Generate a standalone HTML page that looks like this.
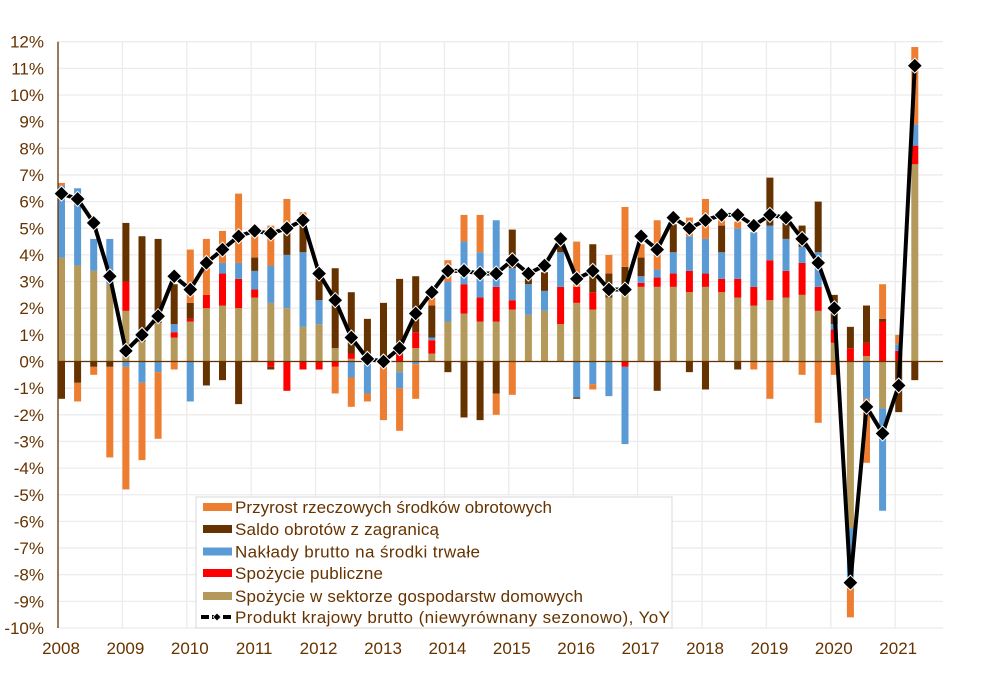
<!DOCTYPE html>
<html><head><meta charset="utf-8"><style>
body{margin:0;background:#fff;}
svg text{font-family:"Liberation Sans",Arial,sans-serif;fill:#663300;}
</style></head><body>
<svg id="c" width="999" height="673" xmlns="http://www.w3.org/2000/svg"></svg>
<script>
const S=document.getElementById('c');
const Y0=361.5,PU=26.65,X0=61.5,DX=16.1;
const y=v=>Y0-v*PU, x=i=>X0+DX*i;
const C={t:'#B5995A',r:'#FF0000',b:'#5B9BD5',n:'#663300',o:'#ED7D31'};
let h='';
for(let v=-10;v<=12;v++){h+=`<line x1="58" x2="943" y1="${y(v)}" y2="${y(v)}" stroke="#ececec" stroke-width="1.3"/>`;
h+=`<text x="44" y="${y(v)+6}" font-size="17" text-anchor="end">${v}%</text>`;}
for(let k=0;k<14;k++){const gx=58+64.4*k;if(k>0)h+=`<line x1="${gx}" x2="${gx}" y1="${y(12)}" y2="${y(-10)}" stroke="#ececec" stroke-width="1.3"/>`;
h+=`<text x="${gx+3}" y="654" font-size="17" text-anchor="middle">${2008+k}</text>`;}
const D=[
"t3.9 b6.6 o6.7|n-1.4","t3.6 b6.5|n-0.8 o-1.5","t3.4 b4.6|n-0.2 o-0.5","t2.9 b4.6|n-0.2 o-3.6",
"t1.9 r3.0 n5.2|b-0.2 o-4.8","t0.75 n4.7|b-0.8 o-3.7","t1.45 n4.6|b-0.4 o-2.9","t0.9 r1.1 b1.4 n2.9|o-0.3",
"t1.5 r1.6 n2.2 o4.2|b-1.5","t2.0 r2.5 o4.6|n-0.9","t2.1 r3.3 b3.7 o4.9|n-0.7","t2.0 r3.1 b3.7 o6.3|n-1.6",
"t2.4 r2.7 b3.4 n3.9 o4.9|","t2.2 b3.6 o5.1|r-0.2 n-0.3","t2.0 b4.0 n5.05 o6.1|r-1.1","t1.3 b4.1 n5.4 o5.6|r-0.3",
"t1.4 b2.3 n3.5|r-0.3","t0.5 n3.5|r-0.2 o-1.2","t0.1 r0.3 n2.6|b-0.6 o-1.7","t0.1 n1.6|b-1.2 o-1.5",
"n2.2|o-2.2","r0.25 n3.1|t-0.4 b-1.0 o-2.6","t0.5 r1.1 n3.2|b-0.1 o-1.4","t0.3 r0.8 b0.9 n2.1 o2.4|",
"t1.5 b3.0 o3.8|n-0.4","t1.8 r2.9 b4.5 o5.5|n-2.1","t1.5 r2.4 b4.1 o5.5|n-2.2","t1.5 r2.8 b5.3|n-1.2 o-2.0",
"t1.95 r2.3 b3.5 n4.95|o-1.25","t1.75 b2.9 n3.3|","t1.9 b2.65 n3.35|","t1.4 r2.8 b4.1 n4.35|",
"t2.2 r2.8 o4.5|b-1.35 n-1.4","t1.95 r2.6 n4.4|b-0.85 o-1.05","t2.4 n3.3 o4.0|b-1.3","t2.5 n3.55 o5.8|r-0.2 b-3.1",
"t2.8 r2.95 b3.2 n3.9 o4.4|","t2.8 r3.15 b3.45 o5.3|n-1.1","t2.8 r3.3 b4.1 n5.15|","t2.6 r3.4 b4.7 o5.4|n-0.4",
"t2.8 r3.3 b4.6 o6.1|n-1.05","t2.6 r3.1 b4.1 n5.1 o5.3|","t2.4 r3.1 b5.0 o5.25|n-0.3","t2.1 r2.8 b4.85|o-0.3",
"t2.3 r3.8 b5.1 n6.9|o-1.4","t2.4 r3.4 b4.6 n5.2|","t2.5 r3.7 b4.3 n5.1|o-0.5","t1.9 r2.8 b4.1 n6.0|o-2.3",
"t0.7 r1.2 b1.4 n2.5|o-0.5","r0.5 n1.3|t-6.25 b-8.1 o-9.6","t0.2 r0.7 n2.1|b-1.4 o-3.8","r1.5 n1.6 o2.9|t-1.75 b-5.6",
"r0.4 b0.65 o1.0|n-1.9","t7.4 r8.1 b8.9 o11.8|n-0.7"];
const G=[6.3,6.1,5.2,3.2,0.4,1.0,1.7,3.2,2.7,3.7,4.2,4.7,4.9,4.8,5.0,5.3,3.3,2.3,0.9,0.1,0.0,0.5,1.8,2.6,3.4,3.4,3.3,3.3,3.8,3.3,3.6,4.6,3.1,3.4,2.7,2.7,4.7,4.2,5.4,5.0,5.3,5.5,5.5,5.1,5.5,5.4,4.6,3.7,2.0,-8.3,-1.7,-2.7,-0.9,11.1];
D.forEach((s,i)=>{const [p,n]=s.split('|');const cx=x(i);
[p,n].forEach(part=>{let prev=0;part.trim().split(/\s+/).filter(Boolean).forEach(tk=>{const col=C[tk[0]],v=parseFloat(tk.slice(1));
const a=y(prev),b=y(v);h+=`<rect x="${cx-3.5}" y="${Math.min(a,b)}" width="7" height="${Math.abs(a-b)}" fill="${col}"/>`;prev=v;});});});
h+=`<line x1="58" x2="943" y1="${Y0}" y2="${Y0}" stroke="#663300" stroke-width="1.3"/>`;
h+=`<line x1="58" x2="58" y1="${y(12)}" y2="${y(-10)}" stroke="#663300" stroke-width="1.3"/>`;
h+=`<polyline fill="none" stroke="#000" stroke-width="4" stroke-linejoin="round" points="${G.map((v,i)=>x(i)+','+y(v)).join(' ')}"/>`;
G.forEach((v,i)=>{const cx=x(i),cy=y(v);h+=`<polygon points="${cx},${cy-7.5} ${cx+7.5},${cy} ${cx},${cy+7.5} ${cx-7.5},${cy}" fill="#000" stroke="#fff" stroke-width="1"/>`;});
h+=`<rect x="196" y="497" width="476" height="131" fill="#fff" stroke="#d9d9d9" stroke-width="1"/>`;
const L=[['o','Przyrost rzeczowych środków obrotowych'],['n','Saldo obrotów z zagranicą'],['b','Nakłady brutto na środki trwałe'],['r','Spożycie publiczne'],['t','Spożycie w sektorze gospodarstw domowych'],['g','Produkt krajowy brutto (niewyrównany sezonowo), YoY']];
const LY=[507,529,551.5,573,596,617];
L.forEach((l,k)=>{const ly=LY[k];
if(l[0]!='g')h+=`<rect x="203" y="${ly-4}" width="29" height="8" fill="${C[l[0]]}"/>`;
else{h+=`<line x1="201" x2="233" y1="${ly}" y2="${ly}" stroke="#000" stroke-width="4" stroke-dasharray="8,3"/><polygon points="217,${ly-4} 221,${ly} 217,${ly+4} 213,${ly}" fill="#000" stroke="#fff" stroke-width="0.8"/>`;}
h+=`<text x="235" y="${ly+6}" font-size="17" textLength="${[317,204,245,148,348,435][k]}">${l[1]}</text>`;});
S.innerHTML=h;
</script>
</body></html>
